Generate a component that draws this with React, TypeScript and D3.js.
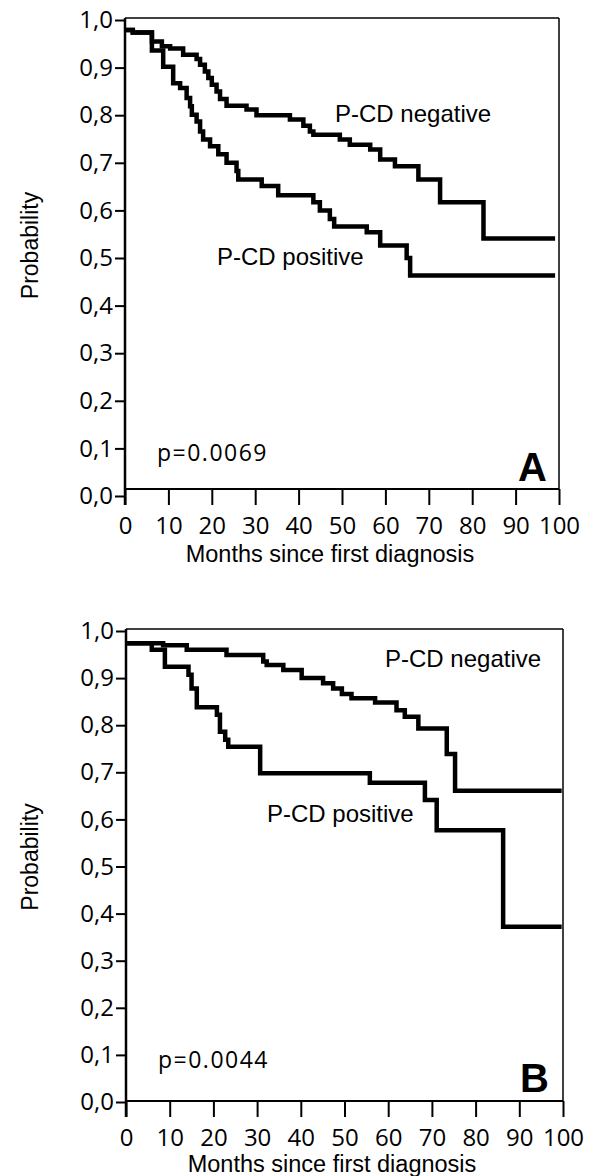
import React, { useEffect, useRef } from "react";
import * as d3 from "d3";

// axis ticks
const monthTicks = [0, 10, 20, 30, 40, 50, 60, 70, 80, 90, 100];
const probTicks = [0, 0.1, 0.2, 0.3, 0.4, 0.5, 0.6, 0.7, 0.8, 0.9, 1.0];

// panel A - Kaplan-Meier steps (months, survival)
const aNegTime = [0, 1.8, 6.2, 8.5, 10.4, 13.4, 16.5, 17.3, 18.4, 19.2, 20.0, 21.1, 21.9, 23.4, 28.0, 30.3, 38.0, 41.1, 42.6, 43.4, 49.5, 51.8, 56.5, 58.8, 62.2, 67.6, 72.6, 82.6, 99.1];
const aNegSurv = [0.979, 0.974, 0.955, 0.945, 0.94, 0.927, 0.918, 0.906, 0.892, 0.878, 0.864, 0.85, 0.834, 0.82, 0.812, 0.8, 0.791, 0.778, 0.766, 0.759, 0.749, 0.738, 0.728, 0.707, 0.693, 0.665, 0.617, 0.541, 0.541];
const aPosTime = [0, 1.8, 6.2, 8.8, 11.1, 12.7, 14.2, 15.0, 15.4, 16.5, 17.3, 18.0, 19.6, 21.5, 23.4, 25.7, 26.1, 31.5, 35.3, 43.4, 44.9, 47.2, 48.2, 55.7, 58.8, 64.9, 65.7, 99.1];
const aPosSurv = [0.979, 0.974, 0.936, 0.902, 0.867, 0.857, 0.836, 0.819, 0.801, 0.787, 0.766, 0.749, 0.735, 0.718, 0.7, 0.683, 0.665, 0.651, 0.632, 0.617, 0.6, 0.582, 0.566, 0.554, 0.526, 0.5, 0.463, 0.463];

// panel B
const bNegTime = [0, 8.5, 13.9, 23.0, 31.4, 32.2, 36.0, 40.2, 45.1, 47.4, 49.4, 51.6, 57.0, 61.9, 63.8, 66.9, 73.4, 75.3, 99.7];
const bNegSurv = [0.974, 0.97, 0.96, 0.949, 0.935, 0.928, 0.917, 0.9, 0.889, 0.878, 0.866, 0.857, 0.848, 0.832, 0.818, 0.793, 0.739, 0.661, 0.661];
const bPosTime = [0, 5.9, 8.9, 14.3, 15.0, 16.2, 20.8, 21.5, 22.7, 23.4, 30.7, 55.8, 68.4, 71.1, 86.3, 99.7];
const bPosSurv = [0.974, 0.96, 0.924, 0.907, 0.878, 0.838, 0.822, 0.786, 0.769, 0.754, 0.698, 0.678, 0.641, 0.577, 0.372, 0.372];

const TICK_FONT = "'Open Sans', sans-serif";
const TEXT_FONT = "'Liberation Sans', Arial, sans-serif";

function drawPanel(svg, p) {
  const g = svg.append("g");
  const x = d3.scaleLinear().domain([0, 100]).range([p.left, p.right]);
  const y = d3.scaleLinear().domain([0, 1]).range([p.zeroY, p.oneY]);
  const top = y(1) - 2;
  const bottom = p.boxBottom;
  const tickLen = 16;

  // frame
  g.append("line").attr("x1", x(0)).attr("x2", x(100)).attr("y1", top).attr("y2", top)
    .attr("stroke", "#000").attr("stroke-width", 1.5);
  g.append("line").attr("x1", x(100)).attr("x2", x(100)).attr("y1", top).attr("y2", bottom)
    .attr("stroke", "#000").attr("stroke-width", 1.5);
  g.append("line").attr("x1", x(0)).attr("x2", x(100)).attr("y1", bottom).attr("y2", bottom)
    .attr("stroke", "#000").attr("stroke-width", 2);

  // Y axis
  const ya = g.append("g")
    .attr("transform", `translate(${x(0)},0)`)
    .call(
      d3.axisLeft(y)
        .tickValues(probTicks)
        .tickFormat(d => d3.format(".1f")(d).replace(".", ","))
        .tickSize(10)
        .tickPadding(2)
    );
  ya.select(".domain").remove();
  ya.selectAll("line").attr("stroke-width", 2);
  ya.attr("font-family", TICK_FONT).attr("font-size", 24);
  g.append("line").attr("x1", x(0)).attr("x2", x(0)).attr("y1", top).attr("y2", bottom + tickLen)
    .attr("stroke", "#000").attr("stroke-width", 2.5);

  // X axis
  const xa = g.append("g")
    .attr("transform", `translate(0,${bottom})`)
    .call(d3.axisBottom(x).tickValues(monthTicks).tickSize(tickLen).tickPadding(12));
  xa.select(".domain").remove();
  xa.selectAll("line").attr("stroke-width", 2);
  xa.attr("font-family", TICK_FONT).attr("font-size", 24);

  // curves
  const line = d3.line()
    .x(d => x(d[0]))
    .y(d => y(d[1]))
    .curve(d3.curveStepAfter);
  p.series.forEach(s => {
    g.append("path")
      .datum(s.t.map((t, i) => [t, s.s[i]]))
      .attr("d", line)
      .attr("fill", "none")
      .attr("stroke", "#000")
      .attr("stroke-width", 4.5)
      .attr("stroke-linejoin", "miter");
  });

  // labels
  const txt = (tx, ty, str, opts = {}) =>
    g.append("text")
      .attr("x", tx).attr("y", ty)
      .attr("font-family", opts.font || TEXT_FONT)
      .attr("font-size", opts.size || 24)
      .attr("font-weight", opts.weight || "normal")
      .attr("text-anchor", opts.anchor || "start")
      .attr("letter-spacing", opts.spacing || 0)
      .text(str);

  txt(p.negLabel[0], p.negLabel[1], "P-CD negative");
  txt(p.posLabel[0], p.posLabel[1], "P-CD positive");
  txt(p.pLabel[0], p.pLabel[1], p.pText, { font: TICK_FONT, size: 23, spacing: 1.5 });
  txt(p.letter[0], p.letter[1], p.letterText, { size: 40, weight: "bold", anchor: "end" });
  txt(p.title[0], p.title[1], "Months since first diagnosis", { size: 23.5, anchor: "middle" });

  g.append("text")
    .attr("transform", `translate(38,${(top + bottom) / 2 - 8}) rotate(-90)`)
    .attr("font-family", TEXT_FONT)
    .attr("font-size", 23)
    .attr("text-anchor", "middle")
    .text("Probability");
}

export default function App() {
  const ref = useRef(null);

  useEffect(() => {
    const svg = d3.select(ref.current);
    svg.selectAll("*").remove();

    drawPanel(svg, {
      left: 125, right: 559, zeroY: 496, oneY: 20, boxBottom: 489,
      series: [{ t: aNegTime, s: aNegSurv }, { t: aPosTime, s: aPosSurv }],
      negLabel: [335, 122], posLabel: [217, 265],
      pLabel: [157, 461], pText: "p=0.0069",
      letter: [547, 481], letterText: "A",
      title: [330, 562],
    });

    drawPanel(svg, {
      left: 126, right: 563, zeroY: 1102, oneY: 631, boxBottom: 1101,
      series: [{ t: bNegTime, s: bNegSurv }, { t: bPosTime, s: bPosSurv }],
      negLabel: [385, 667], posLabel: [267, 822],
      pLabel: [158, 1068], pText: "p=0.0044",
      letter: [549, 1092], letterText: "B",
      title: [332, 1172],
    });
  }, []);

  return (
    <svg
      ref={ref}
      width={597}
      height={1176}
      style={{ position: "absolute", left: 0, top: 0, background: "#fff" }}
    />
  );
}
